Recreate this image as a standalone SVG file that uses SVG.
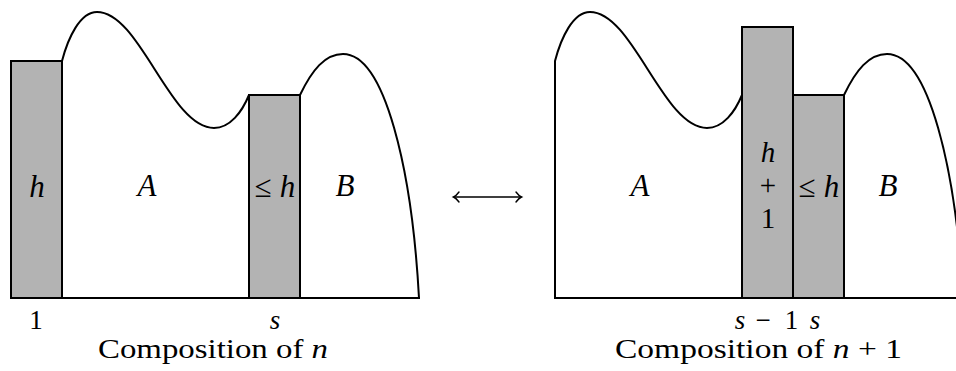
<svg xmlns="http://www.w3.org/2000/svg" width="956" height="371" viewBox="0 0 956 371">
<style>
.outline{fill:#ffffff;stroke:#000;stroke-width:2;stroke-linejoin:round}
.bar{fill:#b3b3b3;stroke:#000;stroke-width:2}
.base{stroke:#000;stroke-width:2.2;fill:none}
.lab{font-size:31px;text-anchor:middle}
.stack{font-size:29px;text-anchor:middle}
.small{font-size:27px;text-anchor:middle}
.cap{font-size:28px}
.it{font-style:italic}
.arrow{stroke:#000;stroke-width:1.4;fill:none;stroke-linecap:round}
</style>
<rect width="956" height="371" fill="#fff"/>
<g id="left-composition" font-family="'Liberation Serif', 'DejaVu Serif', serif" fill="#000">
  <path class="outline" d="M62,298 L62,61 C68,38 80,12 97,12 C140,12 170,128 214,128 C230,128 242,112 249,95 L249,298 Z"/>
  <path class="outline" d="M300,298 L300,95 C312,70 325,54 343,54 C385,54 412,170 419,298 Z"/>
  <rect class="bar" x="11" y="61" width="51" height="237"/>
  <rect class="bar" x="249" y="95" width="51" height="203"/>
  <line class="base" x1="10" y1="298" x2="420" y2="298"/>
  <text class="lab it" x="37" y="197">h</text>
  <text class="lab it" x="147" y="196">A</text>
  <text class="lab" x="275" y="197">≤ <tspan class="it">h</tspan></text>
  <text class="lab it" x="345" y="196">B</text>
  <text class="small" x="36" y="329">1</text>
  <text class="small it" x="275" y="329">s</text>
  <text class="cap" x="98" y="358" textLength="230" lengthAdjust="spacingAndGlyphs">Composition of <tspan class="it">n</tspan></text>
</g>
<g id="connectors">
  <line class="arrow" x1="454" y1="197" x2="521" y2="197"/>
  <path class="arrow" d="M459,192 Q456,196 453.5,197 Q456,198 459,202"/>
  <path class="arrow" d="M516,192 Q519,196 521.5,197 Q519,198 516,202"/>
</g>
<g id="right-composition" font-family="'Liberation Serif', 'DejaVu Serif', serif" fill="#000">
  <path class="outline" d="M555,298 L555,61 C561,38 573,12 590,12 C633,12 663,128 707,128 C723,128 735,112 742,95 L742,298 Z"/>
  <path class="outline" d="M844,298 L844,95 C856,70 869,54 887,54 C929,54 956,170 963,298 Z"/>
  <rect class="bar" x="742" y="27" width="51" height="271"/>
  <rect class="bar" x="793" y="95" width="51" height="203"/>
  <line class="base" x1="554" y1="298" x2="964" y2="298"/>
  <text class="lab it" x="640" y="196">A</text>
  <text class="stack it" x="768" y="162">h</text>
  <text class="stack" x="768" y="195">+</text>
  <text class="stack" x="768" y="228">1</text>
  <text class="lab" x="819" y="197">≤ <tspan class="it">h</tspan></text>
  <text class="lab it" x="888" y="196">B</text>
  <text class="small it" x="740" y="329">s</text>
  <text class="small" x="763" y="329">−</text>
  <text class="small" x="791.5" y="329">1</text>
  <text class="small it" x="815" y="329">s</text>
  <text class="cap" x="615" y="358" textLength="287" lengthAdjust="spacingAndGlyphs">Composition of <tspan class="it">n</tspan> + 1</text>
</g>
</svg>
